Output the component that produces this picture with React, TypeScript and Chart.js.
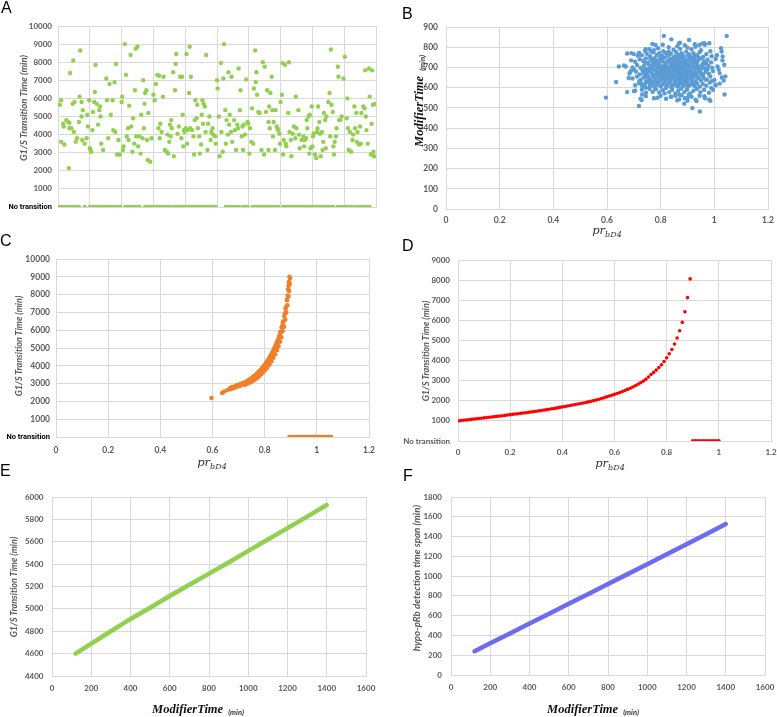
import React, { useEffect, useRef } from 'react';
import { Chart, registerables } from 'chart.js';
Chart.register(...registerables);

const GRID = '#d9d9d9';
const TICK = '#595959';
const GREEN = '#92D050';
const BLUE = '#5B9BD5';
const ORANGE = '#F07F2A';
const RED = '#FF0000';
const PURPLE = '#6C6CF0';

// ---------- tick values ----------
const aTicksX = [0, 50, 100, 150, 200, 250, 300, 350, 400, 450, 500];
const aTicksY = [0, 1000, 2000, 3000, 4000, 5000, 6000, 7000, 8000, 9000, 10000];
const prTicks = [0, 0.2, 0.4, 0.6, 0.8, 1, 1.2];
const bTicksY = [0, 100, 200, 300, 400, 500, 600, 700, 800, 900];
const cTicksY = [0, 1000, 2000, 3000, 4000, 5000, 6000, 7000, 8000, 9000, 10000];
const dTicksY = [0, 1000, 2000, 3000, 4000, 5000, 6000, 7000, 8000, 9000];
const modTicks = [0, 200, 400, 600, 800, 1000, 1200, 1400, 1600];
const eTicksY = [4400, 4600, 4800, 5000, 5200, 5400, 5600, 5800, 6000];
const fTicksY = [0, 200, 400, 600, 800, 1000, 1200, 1400, 1600, 1800];

// ---------- Panel A: G1/S transition time per simulated cell ----------
const aTransitions: [number, number][] = [
  [3,5650],[5,5900],[5,3600],[8,4600],[9,4450],[10,3450],[13,4800],[16,4700],[17,2150],[18,4650],[18,4350],[19,7400],[21,4350],[23,5700],[24,8100],[25,4150],[26,5800],[28,3600],[30,3800],[33,4700],[34,6100],[35,8650],[37,5000],[37,5800],[38,3700],[39,5350],[42,3500],[45,3800],[46,5100],[47,4450],[49,5900],[50,3250],[51,3150],[52,3050],[54,4250],[55,5250],[57,5800],[58,6350],[59,7850],[61,5700],[63,4550],[65,5350],[66,5550],[67,5000],[68,3500],[71,3150],[76,7100],[77,5900],[79,3800],[81,6800],[83,5100],[86,5900],[87,4250],[89,6900],[90,4150],[91,7900],[93,2900],[95,3700],[97,2900],[100,5800],[101,6100],[102,3150],[103,3350],[105,9000],[107,7300],[108,3900],[110,4350],[111,3700],[112,5600],[114,8400],[115,4450],[117,3050],[118,4900],[120,3500],[121,6450],[122,8750],[123,3900],[125,8850],[126,3350],[128,3900],[130,2950],[131,5100],[133,3800],[134,7000],[135,4350],[136,5700],[137,6300],[139,6450],[140,3700],[141,2600],[142,5200],[145,2500],[147,3800],[150,6200],[152,5900],[154,6800],[156,7300],[158,4350],[159,7250],[160,3800],[161,4600],[163,4150],[165,6100],[166,7200],[168,3150],[171,3050],[172,4000],[173,2950],[175,3600],[176,4550],[177,3900],[178,4800],[179,4350],[181,7450],[182,2800],[184,6450],[185,7900],[186,8450],[188,4050],[190,4450],[192,7200],[194,3800],[195,7200],[196,5100],[197,3350],[198,4250],[199,4150],[201,4350],[202,8450],[203,3500],[204,4250],[206,6300],[207,8850],[208,4350],[209,7200],[211,4250],[213,3900],[214,2900],[215,4800],[216,5900],[218,4900],[219,5650],[220,4350],[222,3900],[223,2950],[225,3450],[226,5100],[227,5900],[228,4600],[229,5700],[231,5550],[232,4150],[233,8400],[235,3150],[236,4600],[238,5000],[240,3700],[241,4150],[243,4350],[244,4000],[247,3900],[248,3500],[250,7000],[251,6550],[253,5000],[254,2800],[256,7950],[257,4150],[259,3050],[260,7100],[261,9000],[263,5350],[264,3500],[265,4800],[267,4000],[268,7450],[269,4550],[270,5100],[272,4150],[273,7200],[274,3600],[277,4800],[278,4250],[280,3150],[282,4550],[283,4350],[284,7650],[286,5350],[287,6450],[289,3900],[290,4450],[291,3150],[292,4550],[294,4000],[296,7050],[298,4700],[299,4600],[301,2950],[302,4350],[304,3600],[305,5450],[307,3500],[308,6550],[310,8650],[311,6900],[312,7450],[313,6200],[315,5250],[317,5200],[320,3150],[322,8000],[324,2900],[325,7750],[327,5250],[329,6450],[331,4700],[331,3150],[332,5550],[333,4350],[334,6300],[336,7200],[337,5350],[338,3900],[339,4700],[341,3150],[342,5350],[344,4450],[345,4350],[346,4250],[348,4050],[349,3500],[350,5800],[352,6200],[353,7950],[354,2900],[355,3700],[357,7850],[358,3500],[359,3350],[362,5200],[363,8000],[364,4150],[366,3700],[367,2800],[369,4050],[371,4450],[373,3800],[374,6100],[375,4350],[378,5350],[379,4000],[380,3250],[383,3700],[386,3900],[387,3350],[388,3700],[390,3800],[391,4800],[392,4350],[394,5000],[395,2950],[396,5100],[397,3250],[399,5550],[400,3350],[401,3900],[402,4050],[404,2900],[406,2700],[407,4150],[408,4350],[409,5550],[411,4700],[412,4050],[413,2800],[415,4150],[416,3150],[417,3600],[418,5200],[420,4800],[421,3250],[422,5000],[425,5800],[427,6300],[428,3900],[429,8700],[430,5650],[432,5250],[433,3350],[434,2900],[435,3600],[437,3900],[438,4350],[440,7750],[441,7200],[442,4800],[444,4800],[446,5000],[449,7100],[451,8300],[454,4900],[455,6000],[456,4350],[457,3150],[459,4150],[461,3050],[463,3700],[464,4000],[466,5550],[467,4350],[469,5200],[470,3600],[471,4150],[472,3500],[474,3450],[475,4450],[476,3500],[477,5200],[480,5550],[482,5450],[483,7550],[484,5000],[485,4250],[487,3500],[489,7650],[490,6100],[492,2900],[493,4600],[494,7550],[495,5650],[496,3050],[497,2800],[499,5700]
];
const aNoTransitionIdx = [
  2,6,10,14,19,23,27,31,33,42,50,54,58,62,66,70,74,78,82,86,90,94,98,106,110,114,118,122,126,128,
  137,141,145,149,153,157,161,165,169,173,175,181,185,189,193,197,200,204,208,212,216,220,224,228,232,236,240,244,248,
  264,268,272,276,280,284,290,294,298,306,310,314,318,322,326,330,334,338,342,346,
  354,358,362,366,370,374,378,382,386,390,392,397,401,405,409,413,417,421,425,429,433,
  440,444,448,452,456,460,463,469,473,477,481,485,489,490
];

// ---------- Panel B: ModifierTime vs pr_bD4 ----------
const bPoints: [number, number][] = [
  [0.596,551],[0.634,628],[0.644,705],[0.663,710],[0.675,769],[0.691,771],[0.700,766],[0.675,578],[0.719,509],[0.729,539],[0.946,482],[0.918,499],[0.888,521],[1.038,566],[1.035,635],[1.041,656],[1.025,795],[1.027,779],[0.981,820],[0.906,836],[0.769,816],[0.812,856],[1.046,856],[0.84,839],
  [1.031,754],[1.037,713],[1.016,689],[1.004,615],[0.988,599],[0.981,542],[0.963,558],[0.934,534],[0.9,550],[0.869,542],[0.838,555],[0.788,550],[0.731,566],[0.7,583],[0.681,648],[0.688,681],[0.719,771],[0.744,790],[0.781,811],[0.869,820],[0.944,811],[0.963,820],
  [0.742,782],[0.758,790],[0.775,785],[0.79,795],[0.81,780],[0.83,800],[0.848,788],[0.862,805],[0.873,792],[0.89,810],[0.9,798],[0.915,790],[0.93,802],[0.95,785],[0.965,812],[0.72,772],[0.985,780],[0.808,812],[0.872,822],[0.927,815],[0.955,818],
  [0.73,760],[0.748,768],[0.76,755],[0.772,775],[0.785,762],[0.795,770],[0.805,758],[0.818,772],[0.826,760],[0.838,768],[0.85,752],[0.858,775],[0.867,762],[0.878,770],[0.886,756],[0.895,778],[0.905,765],[0.912,752],[0.922,770],[0.935,760],[0.945,775],[0.958,752],[0.97,765],[0.99,755],[1.01,760],[0.715,758],[0.765,778],[0.83,778],[0.88,760],[0.94,750],
  [0.705,728],[0.722,740],[0.735,732],[0.745,745],[0.752,722],[0.762,738],[0.77,728],[0.778,746],[0.786,735],[0.793,722],[0.8,742],[0.808,730],[0.815,748],[0.822,725],[0.83,738],[0.837,745],[0.845,728],[0.852,740],[0.86,722],[0.866,735],[0.874,748],[0.882,730],[0.888,742],[0.896,725],[0.903,738],[0.91,745],[0.918,728],[0.925,740],[0.933,724],[0.94,735],[0.952,745],[0.962,730],[0.975,738],[0.988,725],[1.005,742],[1.03,735],[0.69,735],[0.742,725],[0.798,750],[0.857,748],[0.915,735],[0.96,722],
  [0.67,705],[0.695,700],[0.712,712],[0.725,698],[0.738,708],[0.748,692],[0.756,715],[0.765,702],[0.772,690],[0.78,710],[0.788,698],[0.795,716],[0.803,694],[0.81,706],[0.817,718],[0.824,700],[0.832,690],[0.839,712],[0.846,698],[0.853,708],[0.86,692],[0.868,715],[0.875,700],[0.883,710],[0.89,694],[0.898,706],[0.905,716],[0.913,698],[0.92,708],[0.928,692],[0.937,712],[0.946,700],[0.955,715],[0.965,695],[0.978,708],[0.992,698],[1.012,705],[0.7,690],[0.76,696],[0.82,710],[0.865,703],[0.892,718],[0.932,702],[0.97,718],
  [0.684,670],[0.708,680],[0.722,665],[0.733,685],[0.744,672],[0.752,662],[0.76,682],[0.768,668],[0.776,688],[0.784,674],[0.791,660],[0.799,680],[0.806,668],[0.813,685],[0.821,672],[0.828,662],[0.835,682],[0.842,670],[0.849,688],[0.856,664],[0.863,676],[0.871,686],[0.878,668],[0.885,680],[0.893,662],[0.9,674],[0.908,686],[0.916,668],[0.923,680],[0.931,664],[0.939,676],[0.948,688],[0.957,666],[0.968,678],[0.98,668],[0.995,682],[1.02,672],[0.74,688],[0.795,672],[0.845,676],[0.875,662],[0.905,665],[0.95,674],
  [0.695,645],[0.712,655],[0.726,638],[0.737,650],[0.746,632],[0.755,648],[0.763,638],[0.771,656],[0.779,642],[0.787,632],[0.794,652],[0.802,640],[0.809,656],[0.817,634],[0.824,646],[0.831,658],[0.838,638],[0.846,650],[0.853,632],[0.861,644],[0.868,656],[0.876,640],[0.883,650],[0.891,634],[0.899,646],[0.906,658],[0.914,638],[0.922,650],[0.93,632],[0.94,646],[0.95,636],[0.96,652],[0.972,640],[0.985,655],[1.0,638],[1.028,650],[0.72,632],[0.815,648],[0.87,632],[0.935,656],[0.99,632],
  [0.705,612],[0.72,622],[0.732,605],[0.742,618],[0.752,628],[0.76,608],[0.768,620],[0.776,604],[0.784,615],[0.792,626],[0.8,606],[0.808,618],[0.816,628],[0.823,610],[0.831,622],[0.839,602],[0.847,614],[0.855,626],[0.862,606],[0.87,618],[0.878,628],[0.886,610],[0.894,622],[0.902,604],[0.91,615],[0.918,626],[0.927,608],[0.936,620],[0.946,605],[0.957,618],[0.97,610],[0.983,625],[1.005,612],[1.02,620],[0.745,600],[0.86,618],[0.9,628],
  [0.705,585],[0.73,590],[0.745,575],[0.758,595],[0.77,580],[0.782,592],[0.795,576],[0.808,588],[0.82,598],[0.832,578],[0.843,590],[0.855,572],[0.866,585],[0.877,596],[0.888,578],[0.898,590],[0.91,572],[0.922,585],[0.935,595],[0.948,578],[0.962,590],[0.98,575],[0.995,590],[0.815,572],[0.87,565],
  [0.725,545],[0.745,558],[0.775,548],[0.8,560],[0.82,545],[0.84,555],[0.862,538],[0.878,562],[0.89,548],[0.9,535],[0.915,555],[0.93,540],[0.945,560],[0.965,548],[0.985,535],[0.855,560],[0.905,565],
  [0.764,745],[0.772,712],[0.781,726],[0.789,684],[0.797,704],[0.806,744],[0.812,695],[0.819,660],[0.827,730],[0.834,704],[0.841,656],[0.849,720],[0.855,688],[0.862,754],[0.869,672],[0.877,724],[0.884,694],[0.892,650],[0.899,732],[0.906,690],[0.913,664],[0.921,722],[0.779,660],[0.787,616],[0.796,636],[0.804,676],[0.811,620],[0.819,640],[0.826,690],[0.834,628],[0.842,606],[0.85,662],[0.858,640],[0.866,610],[0.873,650],[0.881,620],[0.889,668],[0.896,636],[0.904,612],[0.912,650],[0.92,616],[0.927,668],[0.768,700],[0.776,632],[0.83,674],[0.838,724],[0.846,616],[0.854,754],[0.862,682],[0.87,700],[0.878,738],[0.886,624],[0.894,680],[0.902,758],[0.91,698],[0.918,676],[0.926,752],[0.943,690],[0.951,660],[0.959,700],[0.967,640],[0.975,690],[0.752,680],[0.744,655],[0.736,672],[0.728,618],[0.758,628]
];

// ---------- Panel C: simulated transition time vs pr_bD4 ----------
const cTransitions: [number, number][] = [
  [0.596,2190],[0.637,2470],[0.645,2560],[0.658,2640],[0.668,2750],[0.672,2690],[0.676,2800],[0.682,2760],[0.686,2850],[0.69,2800],[0.694,2900],[0.698,2860],[0.702,2950],[0.706,2900],[0.71,2980],[0.714,3020],[0.718,2960],[0.722,3060],[0.726,3030],[0.73,3120],[0.735,3150],[0.74,3200],[0.745,3260],[0.75,3300],[0.755,3370],[0.76,3420],[0.765,3480],[0.77,3550],[0.775,3620],[0.78,3700],[0.785,3780],[0.79,3860],[0.795,3950],[0.8,4050],[0.805,4150],[0.81,4260],[0.815,4380],[0.82,4500],[0.825,4630],[0.83,4770],[0.835,4920],[0.84,5080],[0.845,5250],[0.85,5440],[0.855,5650],[0.86,5880],[0.865,6150],[0.87,6450],[0.875,6800],[0.88,7200],[0.885,7700],[0.89,8300],[0.893,8700],[0.895,9000],
  [0.704,2870],[0.716,3000],[0.728,3080],[0.738,3170],[0.748,3240],[0.758,3360],[0.768,3490],[0.778,3640],[0.788,3790],[0.798,3960],[0.808,4180],[0.818,4410],[0.828,4660],[0.838,4960],[0.848,5300],[0.858,5700],[0.868,6250],[0.878,6950],[0.886,7700],[0.892,8500],[0.812,4250],[0.822,4520],[0.842,5100],[0.852,5450],[0.862,5900],[0.872,6500],[0.882,7300],[0.888,7950],[0.897,8900],[0.894,8200],[0.896,8600],[0.891,7900],[0.887,7400],[0.883,7000],[0.879,6600],[0.874,6200],[0.869,5950],[0.864,5600],[0.859,5350],[0.853,5100],[0.847,4880],[0.84,4650],[0.833,4450],[0.826,4250],[0.818,4060],[0.81,3900],[0.802,3760],[0.794,3640],[0.786,3520],[0.778,3400],[0.77,3300],[0.762,3220],[0.754,3140],[0.744,3060],[0.734,2990],[0.724,2930]
];
const cNoTransitionX = [0.895,0.9,0.905,0.91,0.915,0.92,0.925,0.93,0.935,0.94,0.945,0.95,0.955,0.96,0.965,0.97,0.975,0.98,0.985,0.99,0.995,1.0,1.005,1.01,1.015,1.02,1.025,1.03,1.035,1.04,1.045,1.05,1.055];

// ---------- Panel D: deterministic transition time vs pr_bD4 ----------
const dX = [0,0.01,0.02,0.03,0.04,0.05,0.06,0.07,0.08,0.09,0.1,0.11,0.12,0.13,0.14,0.15,0.16,0.17,0.18,0.19,0.2,0.21,0.22,0.23,0.24,0.25,0.26,0.27,0.28,0.29,0.3,0.31,0.32,0.33,0.34,0.35,0.36,0.37,0.38,0.39,0.4,0.41,0.42,0.43,0.44,0.45,0.46,0.47,0.48,0.49,0.5,0.51,0.52,0.53,0.54,0.55,0.56,0.57,0.58,0.59,0.6,0.61,0.62,0.63,0.64,0.65,0.66,0.67,0.68,0.69,0.7,0.71,0.72,0.73,0.74,0.75,0.76,0.77,0.78,0.79,0.8,0.81,0.82,0.83,0.84,0.85,0.86,0.87,0.88,0.89];
const dY = [
  1000,1014,1029,1044,1059,1074,1089,1104,1119,1134,
  1150,1165,1180,1195,1210,1226,1242,1258,1274,1292,
  1310,1326,1342,1358,1374,1391,1408,1425,1443,1461,
  1480,1499,1518,1538,1558,1579,1600,1622,1645,1670,
  1695,1717,1740,1763,1787,1812,1837,1862,1889,1916,
  1945,1975,2008,2042,2078,2115,2154,2195,2235,2278,
  2320,2365,2410,2460,2510,2565,2625,2685,2750,2820,
  2895,2975,3065,3180,3310,3410,3525,3655,3790,3955,
  4135,4335,4550,4820,5120,5480,5900,6430,7130,8060
];
const dNoTransitionX = [0.9,0.91,0.92,0.93,0.94,0.95,0.96,0.97,0.98,0.99,1.0];

// ---------- Panel E / F: vs ModifierTime ----------
const eX = [120,200,300,400,500,600,700,800,900,1000,1100,1200,1300,1400];
const eY = [4600,4690,4800,4910,5010,5115,5215,5315,5415,5518,5620,5722,5825,5928];
const fX = [120,200,300,400,500,600,700,800,900,1000,1100,1200,1300,1400];
const fY = [240,320,420,520,620,720,820,920,1020,1120,1220,1322,1424,1526];

const fmt = (v: number) => String(Math.round(v * 100) / 100);
const setTicks = (vals: number[]) => (s: any) => { s.ticks = vals.map((value) => ({ value })); };

// Draws the y-axis tick labels of panel A after everything else, from the y scale's own ticks.
const yLabelPainter = {
  id: 'yLabelPainter',
  afterDraw(chart: any, _args: any, opts: any) {
    if (!opts || !opts.enabled) return;
    const s = chart.scales.y;
    const ctx = chart.ctx;
    ctx.save();
    ctx.textAlign = 'right';
    ctx.textBaseline = 'middle';
    for (const t of s.ticks) {
      const zero = t.value === 0;
      ctx.font = zero ? 'bold 7.5px Roboto' : 'bold 8px Lato';
      ctx.fillStyle = zero ? '#000' : TICK;
      ctx.fillText(zero ? 'No transition' : fmt(t.value), s.right - opts.pad, s.getPixelForValue(t.value));
    }
    ctx.restore();
  },
};

function yAxis(o: any) {
  return {
    type: 'linear', position: 'left', min: o.ticks[0], max: o.ticks[o.ticks.length - 1],
    grid: { color: GRID, drawTicks: false, lineWidth: 1 },
    border: { color: GRID },
    ticks: {
      padding: o.pad, autoSkip: false, display: o.hideLabels ? false : true,
      color: o.color ?? TICK,
      font: o.font ?? { family: 'Lato', weight: 'bold', size: o.size },
      callback: o.cb ?? ((v: number) => fmt(v)),
    },
    afterBuildTicks: setTicks(o.ticks),
    afterFit: (s: any) => { s.width = o.width; s.paddingTop = 0; s.paddingBottom = 0; },
  };
}
function xAxis(o: any) {
  return {
    type: 'linear', position: 'bottom', min: o.ticks[0], max: o.ticks[o.ticks.length - 1],
    grid: { color: GRID, drawTicks: false, lineWidth: 1 },
    border: { color: GRID },
    ticks: {
      padding: o.pad ?? 6, autoSkip: false, display: o.hide ? false : true,
      maxRotation: 0, minRotation: 0, color: TICK, font: { family: 'Lato', weight: 'bold', size: o.size ?? 8 },
      callback: (v: number) => fmt(v),
    },
    afterBuildTicks: setTicks(o.ticks),
    afterFit: (s: any) => { s.height = o.height; s.paddingLeft = 0; s.paddingRight = 0; },
  };
}
function baseOptions(padTop: number, padRight: number, x: any, y: any, painter?: any) {
  return {
    responsive: false, animation: false, events: [],
    layout: { padding: { top: padTop, right: padRight, left: 0, bottom: 0 }, autoPadding: false },
    plugins: { legend: { display: false }, tooltip: { enabled: false }, yLabelPainter: painter ?? { enabled: false } },
    scales: { x, y },
  };
}
const pts = (arr: [number, number][]) => arr.map(([x, y]) => ({ x, y }));
const dots = (data: any[], color: string, r: number) => ({
  data, pointRadius: r, pointBackgroundColor: color, pointBorderWidth: 0, borderColor: color, showLine: false,
});
const line = (xs: number[], ys: number[], color: string) => ({
  data: xs.map((x, i) => ({ x, y: ys[i] })), showLine: true, borderColor: color, borderWidth: 4.5,
  borderCapStyle: 'round', pointRadius: 0, tension: 0,
});

const noTransFont = (size: number) => (ctx: any) => ctx.tick && ctx.tick.value === 0
  ? { family: 'Roboto', weight: 'bold', size: 7.5 }
  : { family: 'Lato', weight: 'bold', size };
const noTransColor = (ctx: any) => (ctx.tick && ctx.tick.value === 0 ? '#000' : TICK);
const noTransCb = (v: number) => (v === 0 ? 'No transition' : fmt(v));

type Box = { left: number; top: number; width: number; height: number };
function ChartBox({ box, make }: { box: Box; make: () => any }) {
  const ref = useRef<HTMLCanvasElement>(null);
  useEffect(() => {
    const chart = new Chart(ref.current as HTMLCanvasElement, make());
    return () => chart.destroy();
  }, []);
  return (
    <canvas ref={ref} width={box.width} height={box.height}
      style={{ position: 'absolute', left: box.left, top: box.top, width: box.width, height: box.height }} />
  );
}

const makeA = () => ({
  type: 'scatter',
  data: { datasets: [
    dots(pts(aTransitions), GREEN, 2.2),
    dots(aNoTransitionIdx.map((x) => ({ x, y: 0 })), GREEN, 2.2),
  ] },
  plugins: [yLabelPainter],
  options: baseOptions(26, 14,
    xAxis({ ticks: aTicksX, height: 23, hide: true }),
    yAxis({ ticks: aTicksY, width: 58, pad: 6, hideLabels: true }),
    { enabled: true, pad: 6 }),
});
const makeB = () => ({
  type: 'scatter',
  data: { datasets: [dots(pts(bPoints), BLUE, 2.2)] },
  options: baseOptions(27, 9,
    xAxis({ ticks: prTicks, height: 21, pad: 6, size: 8.5 }),
    yAxis({ ticks: bTicksY, width: 56, pad: 8, size: 8.5 })),
});
const makeC = () => ({
  type: 'scatter',
  data: { datasets: [
    dots(pts(cTransitions), ORANGE, 2.3),
    dots(cNoTransitionX.map((x) => ({ x, y: 0 })), ORANGE, 2.3),
  ] },
  options: baseOptions(29, 21,
    xAxis({ ticks: prTicks, height: 23, pad: 8, size: 8.5 }),
    yAxis({ ticks: cTicksY, width: 56, pad: 6, cb: noTransCb, font: noTransFont(8.5), color: noTransColor })),
});
const makeD = () => ({
  type: 'scatter',
  data: { datasets: [
    dots(dX.map((x, i) => ({ x, y: dY[i] })), RED, 1.8),
    dots(dNoTransitionX.map((x) => ({ x, y: 0 })), RED, 1.9),
  ] },
  options: baseOptions(30, 6,
    xAxis({ ticks: prTicks, height: 19, pad: 6.5, size: 8 }),
    yAxis({ ticks: dTicksY, width: 68, pad: 8, size: 8, cb: noTransCb })),
});
const makeE = () => ({
  type: 'scatter',
  data: { datasets: [line(eX, eY, GREEN)] },
  options: baseOptions(37, 24,
    xAxis({ ticks: modTicks, height: 41, pad: 7.5, size: 8 }),
    yAxis({ ticks: eTicksY, width: 52, pad: 8.5, size: 8 })),
});
const makeF = () => ({
  type: 'scatter',
  data: { datasets: [line(fX, fY, PURPLE)] },
  options: baseOptions(37, 12,
    xAxis({ ticks: modTicks, height: 42, pad: 8, size: 8 }),
    yAxis({ ticks: fTicksY, width: 61, pad: 9, size: 8 })),
});

function Label({ x, y, rotate, children }: { x: number; y: number; rotate?: boolean; children: any }) {
  return (
    <div style={{
      position: 'absolute', left: x, top: y, whiteSpace: 'nowrap', lineHeight: 1,
      transform: `translate(-50%, -50%)${rotate ? ' rotate(-90deg)' : ''}`,
    }}>{children}</div>
  );
}
const yTitleStyle = (size: number) => ({ fontFamily: 'Lato', fontWeight: 700, fontStyle: 'italic', fontSize: size, color: TICK });
function Pr({ x, y }: { x: number; y: number }) {
  return (
    <Label x={x} y={y}>
      <span style={{ fontFamily: 'DejaVu Serif', fontStyle: 'italic', fontSize: 11.5, color: '#333' }}>pr</span>
      <span style={{ fontFamily: 'DejaVu Serif', fontStyle: 'italic', fontSize: 8, color: '#333', position: 'relative', top: 3 }}>bD4</span>
    </Label>
  );
}
function ModTime({ x, y, rotate }: { x: number; y: number; rotate?: boolean }) {
  return (
    <Label x={x} y={y} rotate={rotate}>
      <span style={{ fontFamily: 'Liberation Serif', fontWeight: 700, fontStyle: 'italic', fontSize: 12.5, color: '#111' }}>ModifierTime</span>
      <span style={{ fontFamily: 'Lato', fontWeight: 700, fontStyle: 'italic', fontSize: 7.5, color: '#333', position: 'relative', top: 2, marginLeft: 5 }}>(min)</span>
    </Label>
  );
}
function Letter({ x, y, t }: { x: number; y: number; t: string }) {
  return <div style={{ position: 'absolute', left: x, top: y, fontFamily: 'Liberation Sans', fontSize: 16, lineHeight: 1, color: '#000' }}>{t}</div>;
}

export default function App() {
  return (
    <div style={{ position: 'absolute', left: 0, top: 0, width: 777, height: 717, background: '#fff', overflow: 'hidden' }}>
      <ChartBox box={{ left: 390, top: 0, width: 387, height: 230 }} make={makeB} />
      <ChartBox box={{ left: 0, top: 230, width: 390, height: 230 }} make={makeC} />
      <ChartBox box={{ left: 390, top: 230, width: 387, height: 230 }} make={makeD} />
      <ChartBox box={{ left: 0, top: 460, width: 390, height: 257 }} make={makeE} />
      <ChartBox box={{ left: 390, top: 460, width: 387, height: 257 }} make={makeF} />
      <ChartBox box={{ left: 0, top: 0, width: 390, height: 230 }} make={makeA} />

      <Letter x={1} y={0} t="A" />
      <Letter x={402} y={6} t="B" />
      <Letter x={0} y={233} t="C" />
      <Letter x={402} y={238} t="D" />
      <Letter x={0} y={463} t="E" />
      <Letter x={403} y={468} t="F" />

      <Label x={21.5} y={108} rotate><span style={yTitleStyle(9.5)}>G1/S Transition Time (min)</span></Label>
      <ModTime x={418} y={101} rotate />
      <Label x={16.5} y={346} rotate><span style={yTitleStyle(9)}>G1/S Transition Time (min)</span></Label>
      <Label x={423.5} y={351} rotate><span style={yTitleStyle(9)}>G1/S Transition Time (min)</span></Label>
      <Label x={11.7} y={586.5} rotate><span style={yTitleStyle(9)}>G1/S Transition Time (min)</span></Label>
      <Label x={415} y={578} rotate><span style={yTitleStyle(9.8)}>hypo-pRb detection time span (min)</span></Label>

      <Pr x={607} y={229} />
      <Pr x={212} y={461} />
      <Pr x={610} y={462} />
      <ModTime x={198} y={708} />
      <ModTime x={593} y={708} />
    </div>
  );
}
